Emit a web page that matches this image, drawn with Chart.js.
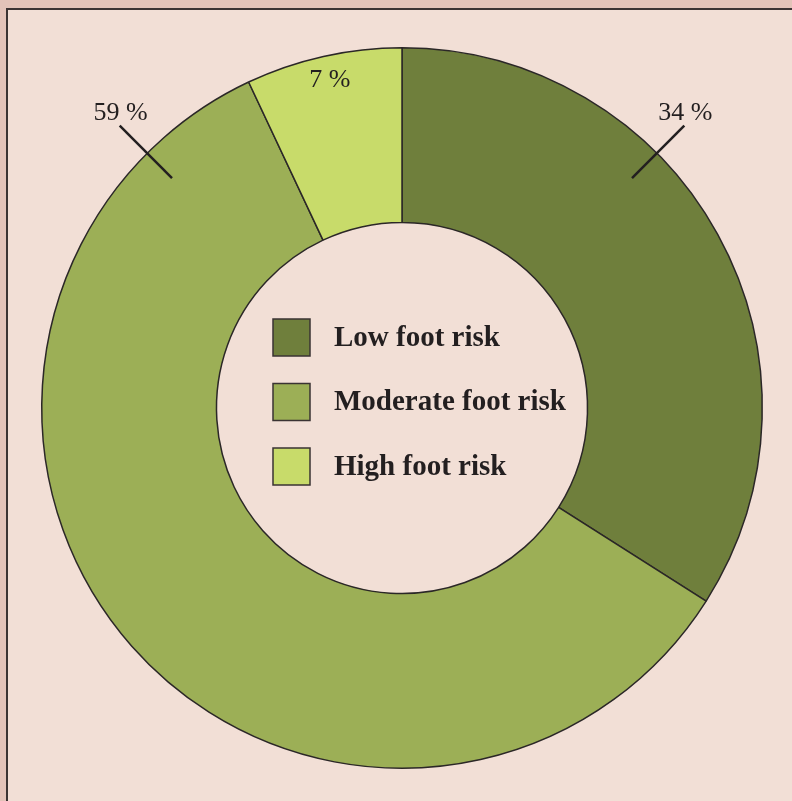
<!DOCTYPE html>
<html>
<head>
<meta charset="utf-8">
<script src="https://cdn.jsdelivr.net/npm/chart.js@4.4.1/dist/chart.umd.min.js"></script>
<style>
	html, body { margin: 0; padding: 0; background: #e3c3b9; }
	#frame {
		position: absolute; left: 6px; top: 8px; right: 0; bottom: 0;
		background: #f2dfd6;
		border-top: 2px solid #3b3333;
		border-left: 2px solid #3b3333;
	}
	#wrap { position: absolute; left: 0; top: 0; width: 792px; height: 801px; }
</style>
</head>
<body>
<div id="frame"></div>
<div id="wrap"><canvas id="riskChart"></canvas></div>
<script>
var categories = ['Low foot risk', 'Moderate foot risk', 'High foot risk'];
var shares = [34, 59, 7];
var shareLabels = ['34 %', '59 %', '7 %'];
var colours = ['#6f7f3c', '#9caf56', '#c8db6a'];

var SERIF = '"Liberation Serif", "DejaVu Serif", serif';
var INK = '#231f20';

// where each percentage goes: angle from 12 o'clock (deg), outside with a tick or inside
var labelPlaces = [
	{ angle: 45, outside: true },
	{ angle: -45, outside: true },
	{ angle: null, outside: false }
];

var centreStuff = {
	id: 'centreStuff',
	afterDraw: function(chart) {
		var ctx = chart.ctx;
		var arcs = chart.getDatasetMeta(0).data;
		if (!arcs.length) return;
		var cx = arcs[0].x, cy = arcs[0].y;
		var R = arcs[0].outerRadius;
		ctx.save();

		// legend in the hole
		var box = 37;
		ctx.font = 'bold 29px ' + SERIF;
		ctx.textBaseline = 'middle';
		ctx.textAlign = 'left';
		for (var i = 0; i < categories.length; i++) {
			var bx = cx - 129;
			var by = cy - 89 + i * 64.5;
			ctx.fillStyle = colours[i];
			ctx.fillRect(bx, by, box, box);
			ctx.lineWidth = 1.5;
			ctx.strokeStyle = '#3a3333';
			ctx.strokeRect(bx, by, box, box);
			ctx.fillStyle = INK;
			ctx.fillText(categories[i], cx - 68, by + box / 2 + 1);
		}

		// percentages
		ctx.font = '26px ' + SERIF;
		ctx.textAlign = 'center';
		ctx.textBaseline = 'alphabetic';
		for (var j = 0; j < arcs.length; j++) {
			var a = arcs[j];
			var place = labelPlaces[j];
			var th;
			if (place.outside) {
				th = place.angle * Math.PI / 180;
				var r1 = R - 35, r2 = R + 39;
				var x1 = cx + r1 * Math.sin(th), y1 = cy - r1 * Math.cos(th);
				var x2 = cx + r2 * Math.sin(th), y2 = cy - r2 * Math.cos(th);
				ctx.beginPath();
				ctx.moveTo(x1, y1);
				ctx.lineTo(x2, y2);
				ctx.lineWidth = 2.5;
				ctx.strokeStyle = INK;
				ctx.stroke();
				ctx.fillStyle = INK;
				ctx.fillText(shareLabels[j], x2 + 1, y2 - 6);
			} else {
				// middle of the slice, near the rim
				var mid = (a.startAngle + a.endAngle) / 2;
				var r = R - 29;
				ctx.fillStyle = INK;
				ctx.fillText(shareLabels[j], cx + r * Math.cos(mid), cy + r * Math.sin(mid) + 2);
			}
		}
		ctx.restore();
	}
};

window.addEventListener('load', function() {
	var ctx = document.getElementById('riskChart');
	new Chart(ctx, {
		type: 'doughnut',
		data: {
			labels: categories,
			datasets: [{
				data: shares,
				backgroundColor: colours,
				borderColor: '#2b2727',
				borderWidth: 1.5,
				hoverOffset: 0
			}]
		},
		options: {
			responsive: true,
			maintainAspectRatio: false,
			animation: false,
			cutout: '51.5%',
			layout: { padding: { left: 41, right: 29, top: 47, bottom: 32 } },
			plugins: {
				legend: { display: false },
				tooltip: { enabled: false }
			},
			events: []
		},
		plugins: [centreStuff]
	});
});
</script>
</body>
</html>
